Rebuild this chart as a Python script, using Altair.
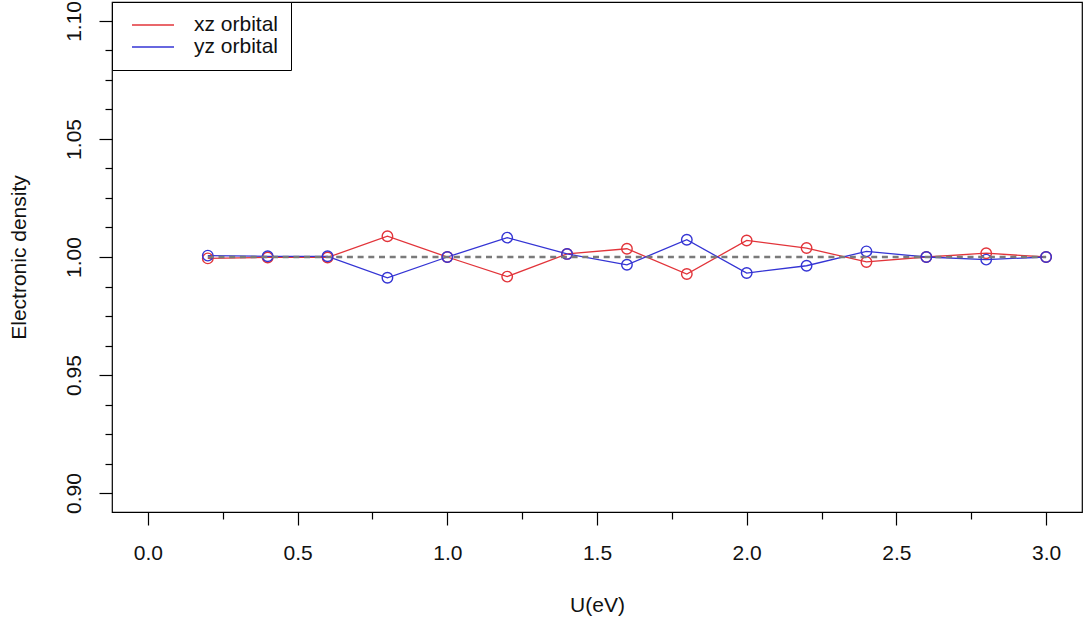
import altair as alt
import pandas as pd

# ---- data ----
U = [0.2, 0.4, 0.6, 0.8, 1.0, 1.2, 1.4, 1.6, 1.8, 2.0, 2.2, 2.4, 2.6, 2.8, 3.0]
xz = [0.9994, 0.9998, 0.9998, 1.0088, 1.0000, 0.9917, 1.0013, 1.0035, 0.9928, 1.0070,
      1.0038, 0.9979, 1.0000, 1.0016, 1.0000]
yz = [1.0006, 1.0003, 1.0003, 0.9912, 1.0000, 1.0082, 1.0013, 0.9967, 1.0073, 0.9932,
      0.9963, 1.0024, 1.0000, 0.9989, 1.0000]
series_names = ["xz orbital", "yz orbital"]
series_colors = ["#e2343a", "#3434d4"]
ref_level = 1.0

x_ticks = [0.0, 0.25, 0.5, 0.75, 1.0, 1.25, 1.5, 1.75, 2.0, 2.25, 2.5, 2.75, 3.0]
y_ticks = [0.9, 0.9125, 0.925, 0.9375, 0.95, 0.9625, 0.975, 0.9875, 1.0,
           1.0125, 1.025, 1.0375, 1.05, 1.0625, 1.075, 1.0875, 1.1]

df = pd.DataFrame({
    "U": U + U,
    "density": xz + yz,
    "orbital": [series_names[0]] * len(U) + [series_names[1]] * len(U),
})
ref_df = pd.DataFrame({"x": [U[0]], "x2": [U[-1]], "y": [ref_level]})

FONT = "Liberation Sans"
FS = 21

x_scale = alt.Scale(domain=[-0.12, 3.12], nice=False, zero=False)
y_scale = alt.Scale(domain=[0.892, 1.108], nice=False, zero=False)
color_scale = alt.Scale(domain=series_names, range=series_colors)

x_major = "abs(datum.value*2 - round(datum.value*2)) < 0.001"
y_major = "abs(datum.value*20 - round(datum.value*20)) < 0.001"

x_axis = alt.Axis(
    values=x_ticks, grid=False, domain=False,
    labelExpr=f"{x_major} ? format(datum.value, '.1f') : ''",
    labelOverlap=False, labelFlush=False,
    tickColor="black", tickWidth=1.2,
    tickSize={"condition": {"test": x_major, "value": 13}, "value": 7},
    labelFont=FONT, labelFontSize=FS, labelColor="#111111",
    labelBaseline="middle", labelPadding=28,
    title="U(eV)", titleFont=FONT, titleFontSize=FS, titleFontWeight="normal",
    titleColor="#111111", titleBaseline="middle", titleY=93,
)
y_axis = alt.Axis(
    values=y_ticks, grid=False, domain=False,
    labelExpr=f"{y_major} ? format(datum.value, '.2f') : ''",
    labelOverlap=False, labelFlush=False,
    tickColor="black", tickWidth=1.2,
    tickSize={"condition": {"test": y_major, "value": 13}, "value": 7},
    labelFont=FONT, labelFontSize=FS, labelColor="#111111",
    labelAngle=270, labelAlign="center", labelBaseline="middle", labelPadding=25,
    title="Electronic density", titleFont=FONT, titleFontSize=FS,
    titleFontWeight="normal", titleColor="#111111", titleAngle=270,
    titleBaseline="middle", titleX=-93,
)

base = alt.Chart(df).encode(
    x=alt.X("U:Q", scale=x_scale, axis=x_axis),
    y=alt.Y("density:Q", scale=y_scale, axis=y_axis),
    color=alt.Color(
        "orbital:N", scale=color_scale,
        legend=alt.Legend(
            title=None, orient="top-left", offset=0,
            strokeColor="black", fillColor="white", padding=12,
            symbolType="stroke", symbolSize=1764, symbolStrokeWidth=1.4,
            symbolOffset=7, labelOffset=19, clipHeight=22, rowPadding=0,
            labelFont=FONT, labelFontSize=FS, labelColor="#111111", labelLimit=300,
        ),
    ),
    detail="orbital:N",
)

lines = base.mark_line(strokeWidth=1.3)
points = base.mark_point(shape="circle", filled=False, size=110, strokeWidth=1.4, opacity=1).encode(
    color=alt.Color("orbital:N", scale=color_scale, legend=None)
)

ref = alt.Chart(ref_df).mark_rule(color="#7a7a7a", strokeWidth=2.3, strokeDash=[6, 4.7]).encode(
    x=alt.X("x:Q", scale=x_scale, axis=x_axis),
    x2="x2:Q",
    y=alt.Y("y:Q", scale=y_scale, axis=y_axis),
)

chart = alt.layer(lines, points, ref).properties(
    width=970, height=510,
    autosize=alt.AutoSizeParams(type="none"),
    padding={"left": 112, "top": 2, "right": 2, "bottom": 114},
    background="white",
).configure_view(stroke="black", strokeWidth=1.2)

chart.save("out.html", embed_options={"renderer": "svg", "actions": False})
